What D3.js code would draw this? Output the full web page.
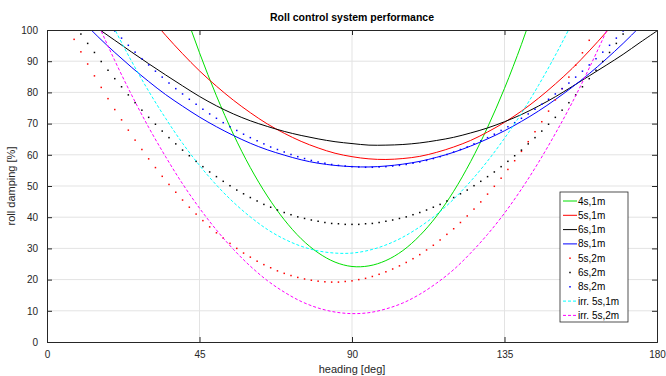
<!DOCTYPE html>
<html><head><meta charset="utf-8">
<script src="https://cdn.jsdelivr.net/npm/d3@7"></script>
<style>body{margin:0;background:#fff}svg{display:block}text{font-family:"Liberation Sans",Arial,Helvetica,sans-serif}</style>
</head><body><svg id="c" width="666" height="376"></svg>
<script>
const lineHeadings = [0,5,10,15,20,25,30,35,40,45,50,55,60,65,70,75,80,85,90,95,100,105,110,115,120,125,130,135,140,145,150,155,160,165,170,175,180];
const green4s1m = [286.7,259.0,232.8,208.1,185.0,163.4,143.4,125.0,108.0,92.7,78.9,66.6,55.9,46.8,39.2,33.1,28.6,25.6,24.2,24.4,26.1,29.3,34.1,40.4,48.3,57.8,68.8,81.3,95.4,111.1,128.2,147.0,167.3,189.1,212.5,237.4,263.9];
const red5s1m = [153.1,143.8,135.0,126.7,118.9,111.6,104.7,98.3,92.4,86.9,82.0,77.5,73.5,69.9,66.9,64.3,62.2,60.5,59.4,58.7,58.5,58.8,59.5,60.8,62.5,64.6,67.3,70.4,74.0,78.1,82.7,87.7,93.3,99.3,105.7,112.7,120.1];
const black6s1m = [114.6,108.8,104.4,100.5,96.7,92.9,89.2,85.6,82.1,78.7,75.7,73.1,70.9,69.1,67.5,66.2,65.1,64.2,63.6,63.1,63.1,63.3,63.8,64.6,65.6,67.0,68.6,70.6,72.9,75.6,78.6,81.9,85.3,88.7,92.2,96.0,99.7];
const blue8s1m = [115.5,109.3,103.4,97.9,92.8,88.0,83.5,79.3,75.6,72.1,69.0,66.2,63.7,61.6,59.9,58.4,57.3,56.6,56.2,56.1,56.4,57.0,57.9,59.2,60.8,62.8,65.1,67.7,70.7,74.0,77.7,81.7,86.0,90.7,95.7,101.1,106.8];
const cyanIrr5s1m = [149.5,136.0,123.3,111.3,100.2,89.9,80.4,71.7,63.7,56.6,50.3,44.8,40.1,36.1,33.0,30.7,29.2,28.5,28.5,29.4,31.1,33.6,36.9,40.9,45.8,51.5,58.0,65.3,73.3,82.2,91.9,102.4,113.7,125.7,138.6,152.3,166.8];
const magentaIrr5s2m = [142.7,128.3,114.8,102.1,90.2,79.1,68.8,59.4,50.7,42.9,35.9,29.7,24.3,19.7,16.0,13.0,10.9,9.6,9.1,9.4,10.6,12.5,15.3,18.9,23.2,28.5,34.5,41.3,49.0,57.5,66.8,76.8,87.8,99.5,112.0,125.4,139.6];

const dotHeadings = [6,8,10,12,14,16,18,20,22,24,26,28,30,32,34,36,38,40,42,44,46,48,50,52,54,56,58,60,62,64,66,68,70,72,74,76,78,80,82,84,86,88,90,92,94,96,98,100,102,104,106,108,110,112,114,116,118,120,122,124,126,128,130,132,134,136,138,140,142,144,146,148,150,152,154,156,158,160,162,164,166,168,170];
const red5s2m = [101.2,97.0,93.0,89.1,85.3,81.6,78.0,74.5,71.2,67.9,64.7,61.7,58.7,55.9,53.1,50.5,48.0,45.5,43.2,41.0,38.9,36.9,35.0,33.3,31.6,30.0,28.5,27.2,25.9,24.8,23.8,22.8,22.0,21.3,20.7,20.2,19.8,19.5,19.3,19.2,19.2,19.4,19.6,20.0,20.4,21.0,21.7,22.5,23.4,24.4,25.5,26.7,28.0,29.5,31.0,32.7,34.5,36.3,38.3,40.4,42.6,44.9,47.4,49.9,52.5,55.3,58.1,61.1,64.2,67.4,70.6,74.0,77.6,81.2,84.9,88.7,92.7,96.7,100.9,105.2,109.5,114.0,118.6];
const black6s2m = [104.9,101.8,98.7,95.7,92.8,89.9,87.1,84.4,81.8,79.2,76.7,74.3,72.0,69.8,67.6,65.5,63.5,61.5,59.7,57.9,56.2,54.5,53.0,51.5,50.1,48.7,47.5,46.3,45.2,44.1,43.2,42.3,41.5,40.8,40.1,39.6,39.1,38.7,38.3,38.0,37.9,37.7,37.7,37.7,37.9,38.0,38.3,38.7,39.1,39.6,40.1,40.8,41.5,42.3,43.2,44.1,45.2,46.3,47.5,48.7,50.1,51.5,53.0,54.5,56.2,57.9,59.7,61.5,63.5,65.5,67.6,69.8,72.0,74.3,76.7,79.2,81.8,84.4,87.1,89.9,92.8,95.7,98.7];
const blue8s2m = [117.5,114.7,112.1,109.5,106.9,104.4,102.0,99.7,97.4,95.1,92.9,90.8,88.8,86.8,84.9,83.0,81.2,79.5,77.8,76.2,74.6,73.1,71.7,70.3,69.0,67.8,66.6,65.5,64.5,63.5,62.5,61.7,60.9,60.1,59.4,58.8,58.2,57.7,57.3,56.9,56.6,56.4,56.2,56.1,56.0,56.0,56.1,56.2,56.4,56.6,56.9,57.3,57.7,58.2,58.8,59.4,60.1,60.9,61.7,62.5,63.5,64.5,65.5,66.6,67.8,69.0,70.3,71.7,73.1,74.6,76.2,77.8,79.5,81.2,83.0,84.9,86.8,88.8,90.8,92.9,95.1,97.4,99.7];

const xTicks = [0,45,90,135,180];
const yTicks = [0,10,20,30,40,50,60,70,80,90,100];
const legendLabels = ["4s,1m","5s,1m","6s,1m","8s,1m","5s,2m","6s,2m","8s,2m","irr. 5s,1m","irr. 5s,2m"];

const series = [
  {name:legendLabels[0], type:"line", vals:green4s1m, color:"#00e000", dash:null},
  {name:legendLabels[1], type:"line", vals:red5s1m, color:"#ff0000", dash:null},
  {name:legendLabels[2], type:"line", vals:black6s1m, color:"#000000", dash:null},
  {name:legendLabels[3], type:"line", vals:blue8s1m, color:"#0000ff", dash:null},
  {name:legendLabels[4], type:"dot", vals:red5s2m, color:"#ff0000"},
  {name:legendLabels[5], type:"dot", vals:black6s2m, color:"#000000"},
  {name:legendLabels[6], type:"dot", vals:blue8s2m, color:"#0000ff"},
  {name:legendLabels[7], type:"line", vals:cyanIrr5s1m, color:"#00ffff", dash:"3,2"},
  {name:legendLabels[8], type:"line", vals:magentaIrr5s2m, color:"#ff00ff", dash:"3,2"}
];

const svg = d3.select("#c");
const L=47, R=657, T=30, B=342;
const x = d3.scaleLinear().domain([0,180]).range([L,R]);
const y = d3.scaleLinear().domain([0,100]).range([B,T]);
const axisCol = "#262626";

svg.append("rect").attr("x",L).attr("y",T).attr("width",R-L).attr("height",B-T).attr("fill","#fff");
svg.append("defs").append("clipPath").attr("id","clip").append("rect")
  .attr("x",L).attr("y",T).attr("width",R-L).attr("height",B-T);

// grid
const grid = svg.append("g");
grid.selectAll(".gx").data(xTicks.slice(1,-1)).join("line")
  .attr("x1",d=>x(d)).attr("x2",d=>x(d)).attr("y1",T).attr("y2",B)
  .attr("stroke","#e3e3e3").attr("stroke-width",1);
grid.selectAll(".gy").data(yTicks.slice(1,-1)).join("line")
  .attr("y1",d=>y(d)).attr("y2",d=>y(d)).attr("x1",L).attr("x2",R)
  .attr("stroke","#e3e3e3").attr("stroke-width",1);

// data
const plot = svg.append("g").attr("clip-path","url(#clip)");
series.forEach(s=>{
  if(s.type==="line"){
    const pts = lineHeadings.map((h,i)=>[h,s.vals[i]]);
    plot.append("path").datum(pts)
      .attr("d", d3.line().x(d=>x(d[0])).y(d=>y(d[1])).curve(d3.curveCatmullRom.alpha(0.5)))
      .attr("fill","none").attr("stroke",s.color).attr("stroke-width",1)
      .attr("stroke-dasharray",s.dash);
  } else {
    const pts = dotHeadings.map((h,i)=>[h,s.vals[i]]);
    plot.append("g").selectAll("rect").data(pts).join("rect")
      .attr("x",d=>x(d[0])-0.75).attr("y",d=>y(d[1])-0.75)
      .attr("width",1.5).attr("height",1.5).attr("fill",s.color);
  }
});

// axes
const xb = svg.append("g").attr("transform",`translate(0,${B})`)
  .call(d3.axisBottom(x).tickValues(xTicks).tickSize(-5).tickPadding(9));
const xt = svg.append("g").attr("transform",`translate(0,${T})`)
  .call(d3.axisTop(x).tickValues(xTicks).tickSize(-5).tickFormat(""));
const yl = svg.append("g").attr("transform",`translate(${L},0)`)
  .call(d3.axisLeft(y).tickValues(yTicks).tickSize(-5).tickPadding(9));
const yr = svg.append("g").attr("transform",`translate(${R},0)`)
  .call(d3.axisRight(y).tickValues(yTicks).tickSize(-5).tickFormat(""));
[xb,xt,yl,yr].forEach(g=>{
  g.select(".domain").attr("stroke",axisCol).attr("stroke-width",1);
  g.selectAll(".tick line").attr("stroke",axisCol);
  g.selectAll(".tick text").attr("fill",axisCol).attr("font-size",10)
   .attr("font-family","'Liberation Sans',Arial,sans-serif");
});

// labels
svg.append("text").attr("x",(L+R)/2).attr("y",21).attr("text-anchor","middle")
  .attr("font-size",10.5).attr("font-weight","bold").attr("fill","#000").text("Roll control system performance");
svg.append("text").attr("x",(L+R)/2).attr("y",373).attr("text-anchor","middle")
  .attr("font-size",11).attr("fill",axisCol).text("heading [deg]");
svg.append("text").attr("transform",`translate(15,${(T+B)/2}) rotate(-90)`).attr("text-anchor","middle")
  .attr("font-size",11).attr("fill",axisCol).text("roll damping [%]");

// legend
const lg = svg.append("g");
const lx=560, ly=192, lw=68, lh=130;
lg.append("rect").attr("x",lx).attr("y",ly).attr("width",lw).attr("height",lh)
  .attr("fill","#fff").attr("stroke",axisCol).attr("stroke-width",0.8);
series.forEach((s,i)=>{
  const yy = ly+9+i*14.3;
  if(s.type==="line"){
    lg.append("line").attr("x1",lx+3).attr("x2",lx+17).attr("y1",yy).attr("y2",yy)
      .attr("stroke",s.color).attr("stroke-width",1).attr("stroke-dasharray",s.dash);
  } else {
    lg.append("rect").attr("x",lx+10-0.75).attr("y",yy-0.75).attr("width",1.5).attr("height",1.5).attr("fill",s.color);
  }
  lg.append("text").attr("x",lx+18).attr("y",yy+3.5).attr("font-size",10).attr("fill","#000").text(s.name);
});
</script></body></html>
